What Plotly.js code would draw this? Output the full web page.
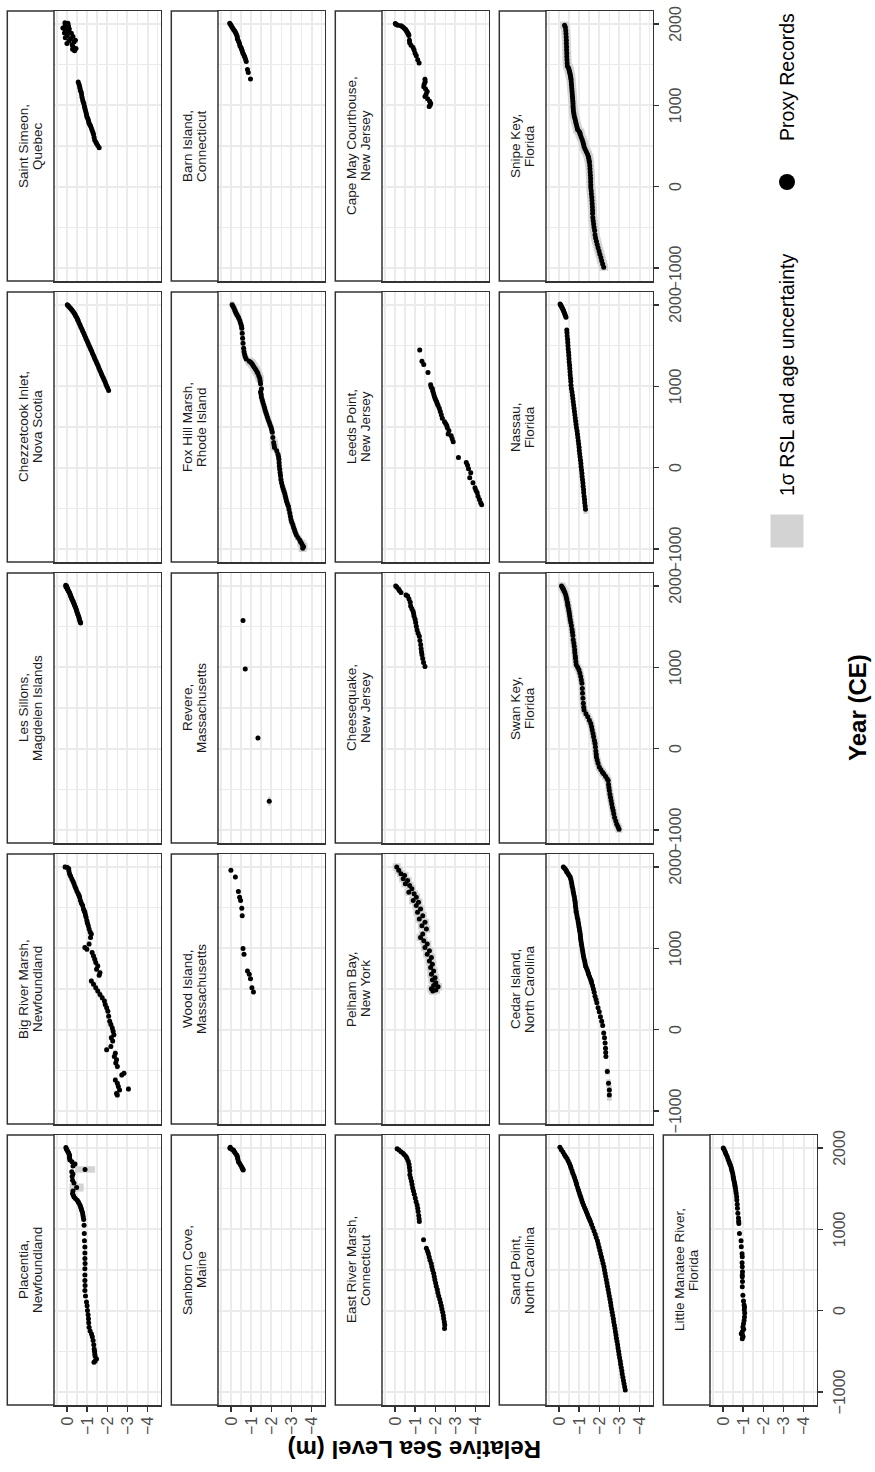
<!DOCTYPE html>
<html>
<head>
<meta charset="utf-8">
<script src="https://cdn.plot.ly/plotly-3.0.1.min.js"></script>
<style>
  html, body { margin: 0; padding: 0; width: 875px; height: 1472px; overflow: hidden; background: #ffffff; }
  /* the figure is laid out landscape and turned a quarter-turn counter-clockwise */
  #chart { position: absolute; left: 0; top: 0; width: 1472px; height: 875px;
           transform-origin: 0 0; transform: translate(0px, 1472px) rotate(-90deg); }
</style>
</head>
<body>
<div id="chart"></div>
<script>
// ---- proxy sea-level records: [year CE, RSL (m), optional 1σ age, optional 1σ RSL] ----
const placentia = [[2005,0.05],[1990,0.03],[1975,0.0],[1960,-0.04],[1945,-0.07],[1930,-0.1],[1910,-0.13],[1890,-0.12],[1870,-0.14],[1852,-0.15],[1830,-0.25],[1802,-0.40,30,0.12],[1780,-0.30],[1737,-0.90,40,0.5],[1707,-0.24],[1680,-0.30],[1650,-0.26],[1605,-0.28],[1570,-0.35],[1515,-0.48,50,0.35],[1470,-0.30],[1441,-0.28],[1420,-0.32],[1399,-0.35],[1380,-0.42],[1358,-0.51],[1340,-0.56],[1320,-0.60],[1297,-0.65],[1275,-0.68],[1255,-0.71],[1235,-0.73],[1210,-0.77],[1180,-0.79],[1153,-0.81],[1120,-0.83],[1050,-0.85],[948,-0.86],[860,-0.87],[783,-0.89],[710,-0.89],[640,-0.89],[580,-0.90],[516,-0.89],[440,-0.89],[372,-0.89],[310,-0.90],[249,-0.89],[180,-0.92],[105,-0.97],[60,-1.0],[2,-1.02],[-50,-1.05],[-100,-1.07],[-150,-1.08],[-204,-1.10],[-250,-1.15],[-286,-1.22],[-320,-1.26],[-368,-1.30],[-420,-1.33],[-470,-1.35],[-500,-1.37],[-532,-1.38],[-560,-1.40],[-594,-1.47],[-620,-1.40,40,0.12],[-635,-1.34]];
const bigRiverMarsh = [[2000,0.09],[1995,-0.02],[1979,-0.09],[1950,-0.1],[1918,-0.13],[1890,-0.18],[1856,-0.24],[1825,-0.3],[1794,-0.35],[1760,-0.4],[1732,-0.45],[1700,-0.5],[1670,-0.56],[1650,-0.6],[1629,-0.63],[1588,-0.67],[1555,-0.72],[1526,-0.78],[1485,-0.82],[1460,-0.86],[1443,-0.89],[1410,-0.92],[1381,-0.95],[1340,-0.99],[1310,-1.02],[1278,-1.06],[1237,-1.1],[1200,-1.15],[1175,-1.21],[1134,-1.17],[1052,-1.1],[1010,-0.89],[990,-0.99],[948,-1.25],[907,-1.32],[866,-1.38],[825,-1.43],[784,-1.53],[742,-1.47],[701,-1.64],[668,-1.6],[598,-1.21],[557,-1.32],[515,-1.43],[474,-1.53],[433,-1.64],[392,-1.75],[351,-1.86],[309,-1.9],[268,-1.97],[227,-2.03],[165,-2.07],[103,-2.12],[62,-2.18],[21,-2.25],[-21,-2.29],[-62,-2.33],[-100,-2.2],[-140,-2.27],[-206,-2.18],[-247,-1.97],[-289,-2.4],[-330,-2.35],[-371,-2.46],[-410,-2.42],[-454,-2.5],[-536,-2.83],[-557,-2.72],[-619,-2.4],[-660,-2.5],[-700,-2.55],[-730,-3.05],[-742,-2.61],[-784,-2.46],[-804,-2.5]];
const lesSillons = [[2008,0.06],[2000,0.02],[1990,0.05],[1980,0.0],[1970,-0.03],[1960,-0.02],[1950,-0.06],[1940,-0.08],[1930,-0.1],[1920,-0.12],[1905,-0.15],[1890,-0.17],[1875,-0.19],[1860,-0.22],[1845,-0.24],[1830,-0.26],[1815,-0.3],[1800,-0.32],[1785,-0.35],[1770,-0.37],[1750,-0.4],[1735,-0.43],[1715,-0.46],[1700,-0.48],[1680,-0.5],[1660,-0.53],[1640,-0.56],[1620,-0.59],[1600,-0.61],[1580,-0.63],[1560,-0.66],[1546,-0.68]];
const chezzetcook = [[2004,-0.02],[1995,-0.05],[1985,-0.09],[1971,-0.13],[1960,-0.18],[1948,-0.22],[1935,-0.26],[1921,-0.3],[1905,-0.35],[1890,-0.39],[1875,-0.42],[1860,-0.45],[1840,-0.5],[1820,-0.53],[1806,-0.56],[1780,-0.6],[1755,-0.65],[1730,-0.69],[1705,-0.74],[1680,-0.78],[1655,-0.83],[1630,-0.87],[1605,-0.92],[1580,-0.96],[1555,-1.01],[1530,-1.05],[1505,-1.09],[1480,-1.14],[1455,-1.18],[1430,-1.23],[1405,-1.27],[1380,-1.32],[1355,-1.36],[1330,-1.4],[1305,-1.45],[1280,-1.49],[1255,-1.54],[1230,-1.58],[1205,-1.62],[1180,-1.67],[1155,-1.71],[1130,-1.75],[1105,-1.8],[1080,-1.84],[1055,-1.89],[1030,-1.93],[1005,-1.97],[980,-2.02],[950,-2.07]];
const saintSimeon = [[2015,0.1],[2005,0.02],[2010,-0.05],[1985,0.08],[1975,-0.08],[1950,0.2],[1965,0.02],[1940,-0.12],[1920,0.08],[1905,-0.06],[1890,0.12],[1885,-0.22],[1860,-0.02],[1845,-0.3],[1830,0.08],[1820,-0.18],[1800,-0.42],[1790,-0.1],[1780,-0.35],[1760,0.0],[1745,-0.26],[1720,-0.3],[1700,-0.45],[1690,-0.28],[1670,-0.38],[1287,-0.56],[1260,-0.6],[1233,-0.63],[1210,-0.65],[1183,-0.67],[1160,-0.71],[1130,-0.73],[1100,-0.75],[1067,-0.78],[1040,-0.81],[1018,-0.84],[990,-0.87],[964,-0.89],[935,-0.92],[910,-0.95],[885,-0.97],[861,-0.99],[840,-1.03],[819,-1.06],[798,-1.08],[778,-1.1],[760,-1.14],[745,-1.17],[720,-1.21],[695,-1.25],[665,-1.29],[641,-1.32],[605,-1.35],[571,-1.38],[550,-1.43],[530,-1.47],[505,-1.53],[480,-1.6]];
const sanbornCove = [[2008,0.03],[1996,0.05],[1985,-0.04],[1975,-0.12],[1965,-0.14],[1950,-0.18],[1935,-0.22],[1914,-0.29],[1900,-0.31],[1880,-0.33],[1860,-0.35],[1832,-0.37],[1815,-0.42],[1795,-0.47],[1770,-0.53],[1755,-0.56],[1740,-0.59],[1729,-0.61]];
const woodIsland = [[1959,0.0],[1876,-0.22],[1699,-0.37],[1629,-0.43],[1588,-0.48],[1493,-0.54],[1402,-0.56],[998,-0.6],[928,-0.65],[722,-0.82],[680,-0.91],[627,-0.97],[515,-1.04],[462,-1.12]];
const revere = [[1575,-0.6],[981,-0.71],[132,-1.34],[-647,-1.9,55,0.06]];
const foxHillMarsh = [[2004,-0.06],[1985,-0.1],[1963,-0.15],[1940,-0.19],[1921,-0.22],[1900,-0.26],[1880,-0.3],[1860,-0.35],[1839,-0.39],[1810,-0.44],[1777,-0.48],[1745,-0.52],[1715,-0.54],[1653,-0.56],[1591,-0.58],[1529,-0.6],[1467,-0.63],[1426,-0.65],[1390,-0.68],[1364,-0.71],[1335,-0.76],[1310,-0.91,45,0.2],[1295,-0.98,45,0.2],[1281,-1.04,45,0.2],[1260,-1.09,45,0.2],[1240,-1.14,45,0.2],[1220,-1.2,45,0.2],[1198,-1.25,45,0.2],[1175,-1.3,45,0.2],[1157,-1.34,45,0.2],[1125,-1.39,45,0.2],[1095,-1.43,45,0.2],[1065,-1.45],[1033,-1.47],[971,-1.51],[930,-1.47],[900,-1.5],[868,-1.51],[836,-1.55],[806,-1.58],[775,-1.62],[744,-1.66],[713,-1.69],[682,-1.73],[650,-1.77],[620,-1.81],[590,-1.85],[558,-1.9],[527,-1.94],[496,-1.99],[465,-2.02],[434,-2.05],[372,-2.08],[310,-2.12,45,0.2],[280,-2.14,45,0.2],[248,-2.16,45,0.2],[207,-2.27],[165,-2.33],[134,-2.36],[103,-2.38],[60,-2.39],[21,-2.4],[-20,-2.42],[-62,-2.44],[-100,-2.46],[-145,-2.48],[-185,-2.51],[-227,-2.55],[-260,-2.59],[-289,-2.63],[-320,-2.67],[-351,-2.7],[-382,-2.73],[-413,-2.76],[-445,-2.8],[-475,-2.85],[-515,-2.88],[-558,-2.92],[-600,-2.95],[-640,-2.98],[-670,-3.02],[-702,-3.07],[-735,-3.11],[-764,-3.15],[-795,-3.19],[-826,-3.24],[-858,-3.32],[-888,-3.41],[-910,-3.45],[-930,-3.5,45,0.2],[-955,-3.55,45,0.2],[-971,-3.6,45,0.2],[-992,-3.56,45,0.2]];
const barnIsland = [[2010,0.06],[1995,0.02],[1980,-0.02],[1960,-0.06],[1945,-0.1],[1930,-0.14],[1915,-0.19],[1900,-0.22],[1880,-0.26],[1860,-0.29],[1840,-0.32],[1815,-0.32],[1795,-0.37],[1775,-0.4],[1755,-0.43],[1730,-0.45],[1710,-0.5],[1690,-0.53],[1670,-0.56],[1650,-0.58],[1630,-0.62],[1610,-0.66],[1590,-0.69],[1565,-0.73],[1540,-0.76],[1440,-0.82],[1405,-0.86],[1324,-0.97]];
const eastRiverMarsh = [[1992,-0.11],[1975,-0.2],[1955,-0.3],[1935,-0.4],[1918,-0.47],[1895,-0.55],[1870,-0.6],[1836,-0.66],[1800,-0.7],[1760,-0.72],[1720,-0.74],[1671,-0.74],[1630,-0.78],[1590,-0.82],[1550,-0.85],[1507,-0.88],[1470,-0.92],[1430,-0.96],[1384,-1.01],[1340,-1.05],[1300,-1.1],[1260,-1.13],[1220,-1.15],[1170,-1.18],[1130,-1.2],[1097,-1.21],[871,-1.42],[768,-1.56],[730,-1.62],[700,-1.66],[660,-1.7],[620,-1.74],[580,-1.8],[540,-1.83],[500,-1.87],[460,-1.92],[420,-1.95],[380,-1.98],[340,-2.02],[300,-2.05],[260,-2.1],[220,-2.13],[180,-2.17],[140,-2.22],[100,-2.26],[60,-2.3],[20,-2.33],[-20,-2.37],[-60,-2.4],[-100,-2.42],[-140,-2.45],[-177,-2.47],[-218,-2.46]];
const pelhamBay = [[2000,-0.09],[1959,-0.19],[1918,-0.3],[1897,-0.48],[1856,-0.41],[1835,-0.63],[1794,-0.52],[1773,-0.73],[1732,-0.84],[1691,-0.69],[1670,-0.95],[1629,-1.06],[1588,-0.91],[1567,-1.17],[1526,-1.06],[1485,-1.27],[1443,-1.12],[1402,-1.38],[1361,-1.21],[1320,-1.49],[1278,-1.34],[1237,-1.56],[1175,-1.38],[1134,-1.27],[1093,-1.43],[1052,-1.6],[1010,-1.49],[969,-1.71],[928,-1.6],[887,-1.81],[845,-1.71],[804,-1.86],[763,-1.77],[722,-1.92],[680,-1.81],[639,-1.99],[610,-1.86],[577,-2.03],[544,-1.92],[528,-2.14],[503,-1.81],[487,-2.03],[474,-1.88]];
const cheesequake = [[2000,-0.04],[1985,-0.1],[1960,-0.19],[1945,-0.22],[1920,-0.3],[1890,-0.55],[1876,-0.63],[1840,-0.7],[1800,-0.76],[1753,-0.78],[1720,-0.84],[1690,-0.9],[1660,-0.93],[1629,-0.95],[1590,-1.0],[1550,-1.03],[1505,-1.06],[1460,-1.1],[1420,-1.15],[1381,-1.21],[1330,-1.24],[1278,-1.28],[1230,-1.3],[1190,-1.32],[1155,-1.34],[1110,-1.38],[1060,-1.42],[1010,-1.49]];
const leedsPoint = [[1446,-1.23],[1310,-1.34],[1269,-1.43],[1169,-1.64],[1021,-1.77],[990,-1.8],[971,-1.86],[940,-1.88],[909,-1.92],[880,-1.95],[855,-1.99],[830,-2.03],[806,-2.07],[785,-2.1],[764,-2.14],[730,-2.2],[690,-2.25],[650,-2.3],[607,-2.35],[566,-2.46],[540,-2.52],[517,-2.57],[490,-2.6],[455,-2.68],[413,-2.64],[393,-2.79],[355,-2.84],[318,-2.89],[124,-3.15],[62,-3.54],[30,-3.6],[-12,-3.65],[-62,-3.76],[-124,-3.71],[-186,-3.87],[-248,-3.97],[-280,-4.02],[-310,-4.08],[-350,-4.12],[-393,-4.19],[-430,-4.25],[-455,-4.3]];
const capeMay = [[2005,-0.02],[1995,-0.06],[1985,-0.15],[1980,-0.3],[1965,-0.38],[1950,-0.45],[1935,-0.52],[1920,-0.56],[1905,-0.6],[1890,-0.63],[1875,-0.68],[1860,-0.69],[1800,-0.72],[1770,-0.73],[1740,-0.8],[1710,-0.9],[1680,-0.95],[1640,-1.0],[1610,-1.06],[1560,-1.13],[1520,-1.2],[1320,-1.49],[1290,-1.5],[1260,-1.45],[1230,-1.43],[1200,-1.52],[1170,-1.6],[1140,-1.55],[1110,-1.49],[1080,-1.62],[1050,-1.72],[1025,-1.77],[1005,-1.75],[985,-1.7]];
const sandPoint = [[2008,-0.05],[1980,-0.12],[1950,-0.2],[1920,-0.27],[1897,-0.33],[1870,-0.4],[1840,-0.46],[1810,-0.52],[1780,-0.57],[1754,-0.6],[1720,-0.65],[1690,-0.69],[1660,-0.74],[1630,-0.78],[1600,-0.82],[1570,-0.86],[1548,-0.88],[1510,-0.93],[1480,-0.97],[1450,-1.01],[1420,-1.05],[1390,-1.09],[1360,-1.13],[1330,-1.17],[1300,-1.22],[1270,-1.27],[1240,-1.32],[1210,-1.37],[1180,-1.42],[1150,-1.47],[1120,-1.52],[1097,-1.56],[1060,-1.62],[1020,-1.68],[980,-1.74],[940,-1.8],[900,-1.85],[860,-1.91],[820,-1.95],[780,-1.99],[740,-2.03],[700,-2.07],[660,-2.11],[620,-2.15],[580,-2.19],[540,-2.23],[500,-2.26],[460,-2.29],[420,-2.32],[380,-2.35],[340,-2.38],[300,-2.41],[260,-2.44],[220,-2.47],[180,-2.5],[140,-2.53],[100,-2.56],[60,-2.58],[20,-2.61],[-20,-2.64],[-60,-2.67],[-100,-2.7],[-140,-2.72],[-180,-2.75],[-220,-2.78],[-260,-2.8],[-300,-2.83],[-340,-2.85],[-380,-2.88],[-420,-2.91],[-460,-2.93],[-500,-2.96],[-540,-2.98],[-580,-3.01],[-620,-3.04],[-660,-3.06],[-700,-3.09],[-740,-3.12],[-780,-3.14],[-820,-3.17],[-860,-3.2],[-900,-3.23],[-940,-3.26],[-977,-3.29]];
const cedarIsland = [[2000,-0.22],[1985,-0.28],[1970,-0.33],[1955,-0.37],[1938,-0.39],[1920,-0.45],[1900,-0.5],[1876,-0.56],[1850,-0.59],[1820,-0.62],[1790,-0.64],[1760,-0.66],[1730,-0.69],[1700,-0.71],[1670,-0.73],[1640,-0.76],[1608,-0.78],[1580,-0.8],[1550,-0.81],[1520,-0.82],[1490,-0.84],[1460,-0.85],[1443,-0.86],[1410,-0.89],[1380,-0.91],[1350,-0.94],[1320,-0.96],[1290,-0.98],[1260,-1.0],[1230,-1.02],[1200,-1.04],[1170,-1.06],[1140,-1.07],[1113,-1.08],[1080,-1.1],[1050,-1.12],[1020,-1.14],[990,-1.16],[960,-1.18],[930,-1.2],[900,-1.22],[870,-1.25],[840,-1.28],[810,-1.3],[784,-1.32],[760,-1.36],[730,-1.41],[700,-1.45],[680,-1.47],[650,-1.52],[620,-1.57],[600,-1.6],[577,-1.62],[540,-1.67],[500,-1.71],[460,-1.75],[412,-1.79],[370,-1.84],[330,-1.88],[268,-1.94],[220,-2.0],[160,-2.06],[103,-2.12],[50,-2.17],[-41,-2.22],[-100,-2.26],[-165,-2.29],[-230,-2.31],[-280,-2.32],[-330,-2.33],[-515,-2.4,40,0.12],[-660,-2.46,50,0.12],[-742,-2.5,60,0.12],[-804,-2.5,70,0.12]];
const swanKey = [[2000,-0.13],[1985,-0.17],[1970,-0.2],[1959,-0.22],[1940,-0.26],[1918,-0.3],[1890,-0.34],[1860,-0.37],[1835,-0.39],[1800,-0.42],[1770,-0.44],[1753,-0.45],[1720,-0.48],[1691,-0.5],[1660,-0.52],[1625,-0.54],[1588,-0.56],[1550,-0.59],[1510,-0.62],[1464,-0.65],[1430,-0.67],[1390,-0.69],[1340,-0.71],[1300,-0.74],[1260,-0.76],[1216,-0.78],[1180,-0.79],[1140,-0.81],[1113,-0.82],[1070,-0.84],[1031,-0.86],[1000,-0.93],[969,-0.99],[930,-1.04],[887,-1.08],[845,-1.11],[804,-1.14],[740,-1.16],[680,-1.17],[620,-1.19],[557,-1.21],[510,-1.23],[474,-1.25],[430,-1.34],[392,-1.43],[350,-1.51],[309,-1.58],[270,-1.62],[230,-1.65],[186,-1.69],[145,-1.72],[100,-1.76],[62,-1.79],[20,-1.81],[-30,-1.83],[-70,-1.85],[-103,-1.86],[-140,-1.9],[-180,-1.94],[-227,-2.0],[-260,-2.08],[-290,-2.16],[-309,-2.22],[-340,-2.31],[-370,-2.39],[-392,-2.44],[-440,-2.46],[-480,-2.48],[-515,-2.5],[-560,-2.53],[-600,-2.56],[-639,-2.59],[-680,-2.62],[-722,-2.65],[-760,-2.69],[-800,-2.72],[-845,-2.76],[-890,-2.82],[-928,-2.87],[-960,-2.93],[-990,-2.98]];
const nassau = [[2012,-0.06],[2000,-0.08],[1990,-0.11],[1975,-0.14],[1960,-0.17],[1945,-0.2],[1930,-0.23],[1910,-0.26],[1890,-0.29],[1870,-0.32],[1850,-0.35],[1694,-0.39],[1660,-0.4],[1620,-0.41],[1580,-0.43],[1540,-0.44],[1500,-0.45],[1460,-0.46],[1420,-0.48],[1380,-0.49],[1340,-0.5],[1300,-0.51],[1260,-0.53],[1220,-0.54],[1180,-0.55],[1140,-0.56],[1100,-0.58],[1060,-0.59],[1012,-0.6],[970,-0.62],[930,-0.65],[890,-0.67],[850,-0.69],[810,-0.71],[770,-0.73],[730,-0.75],[690,-0.77],[650,-0.79],[610,-0.81],[570,-0.83],[530,-0.85],[490,-0.87],[450,-0.9],[410,-0.92],[370,-0.94],[330,-0.96],[290,-0.98],[250,-1.0],[210,-1.01],[170,-1.03],[130,-1.05],[90,-1.07],[50,-1.09],[10,-1.1],[-30,-1.12],[-70,-1.14],[-110,-1.15],[-150,-1.17],[-190,-1.19],[-230,-1.2],[-270,-1.22],[-310,-1.23],[-350,-1.25],[-390,-1.27],[-430,-1.28],[-470,-1.3],[-510,-1.32,60,0.1]];
const snipeKey = [[1985,-0.28],[1960,-0.32],[1920,-0.34],[1880,-0.35],[1840,-0.36],[1800,-0.37],[1760,-0.37],[1720,-0.38],[1680,-0.38],[1640,-0.39],[1600,-0.39],[1560,-0.4],[1520,-0.41],[1485,-0.42],[1460,-0.48],[1440,-0.5],[1420,-0.52],[1400,-0.54],[1380,-0.56],[1360,-0.57],[1340,-0.59],[1320,-0.6],[1290,-0.61],[1260,-0.62],[1230,-0.63],[1200,-0.64],[1170,-0.65],[1140,-0.66],[1110,-0.67],[1080,-0.68],[1050,-0.69],[1020,-0.7],[990,-0.7],[960,-0.71],[930,-0.72],[900,-0.74],[870,-0.76],[840,-0.79],[810,-0.82],[780,-0.85],[750,-0.88],[720,-0.91],[700,-0.93],[680,-1.0],[660,-1.04],[640,-1.06],[610,-1.1],[580,-1.15],[550,-1.19],[520,-1.22],[490,-1.25],[460,-1.3],[430,-1.36],[400,-1.42],[370,-1.46],[345,-1.48],[320,-1.5],[300,-1.51],[260,-1.53],[220,-1.54],[180,-1.55],[140,-1.56],[100,-1.57],[60,-1.57],[20,-1.58],[-10,-1.58],[-50,-1.6],[-90,-1.61],[-130,-1.63],[-170,-1.64],[-210,-1.65],[-250,-1.66],[-290,-1.67],[-330,-1.67],[-380,-1.68],[-420,-1.7],[-460,-1.72],[-500,-1.74],[-540,-1.77],[-590,-1.79],[-630,-1.82],[-670,-1.86],[-710,-1.9],[-750,-1.94],[-790,-1.99],[-830,-2.03],[-870,-2.08],[-910,-2.12],[-950,-2.17],[-990,-2.22]];
const littleManatee = [[2000,-0.02],[1984,-0.05],[1960,-0.1],[1940,-0.13],[1916,-0.17],[1890,-0.22],[1860,-0.26],[1835,-0.3],[1813,-0.33],[1790,-0.37],[1760,-0.41],[1735,-0.43],[1711,-0.46],[1680,-0.49],[1650,-0.51],[1630,-0.52],[1608,-0.54],[1580,-0.57],[1550,-0.59],[1530,-0.6],[1505,-0.62],[1470,-0.64],[1440,-0.66],[1400,-0.68],[1361,-0.69],[1310,-0.71],[1260,-0.72],[1197,-0.74],[1140,-0.77],[1100,-0.78],[1073,-0.79],[950,-0.82],[860,-0.9],[786,-0.91],[700,-0.95],[662,-0.96],[590,-0.95],[539,-0.96],[480,-0.97],[440,-0.96],[416,-0.96],[360,-0.97],[293,-0.96],[190,-0.99],[120,-1.02],[70,-1.05],[46,-1.07],[10,-1.06],[-30,-1.08],[-77,-1.07],[-120,-1.05],[-160,-1.02],[-201,-0.99],[-230,-1.03],[-260,-0.96],[-283,-0.91],[-300,-0.97],[-320,-1.0],[-345,-0.96]];

// facet labels, in panel order (left to right, top to bottom)
const siteLabels = [
  'Placentia,|Newfoundland', 'Big River Marsh,|Newfoundland', 'Les Sillons,|Magdelen Islands', 'Chezzetcook Inlet,|Nova Scotia', 'Saint Simeon,|Quebec',
  'Sanborn Cove,|Maine', 'Wood Island,|Massachusetts', 'Revere,|Massachusetts', 'Fox Hill Marsh,|Rhode Island', 'Barn Island,|Connecticut',
  'East River Marsh,|Connecticut', 'Pelham Bay,|New York', 'Cheesequake,|New Jersey', 'Leeds Point,|New Jersey', 'Cape May Courthouse,|New Jersey',
  'Sand Point,|North Carolina', 'Cedar Island,|North Carolina', 'Swan Key,|Florida', 'Nassau,|Florida', 'Snipe Key,|Florida',
  'Little Manatee River,|Florida'
];
const siteRecords = [placentia, bigRiverMarsh, lesSillons, chezzetcook, saintSimeon,
  sanbornCove, woodIsland, revere, foxHillMarsh, barnIsland,
  eastRiverMarsh, pelhamBay, cheesequake, leedsPoint, capeMay,
  sandPoint, cedarIsland, swanKey, nassau, snipeKey, littleManatee];
// typical 1σ age (years) and RSL (m) uncertainty of each record
const sigmaAge = [25, 35, 10, 10, 20, 15, 30, 30, 40, 10, 20, 45, 30, 30, 30, 15, 30, 45, 25, 45, 25];
const sigmaRsl = [0.06, 0.1, 0.05, 0.04, 0.07, 0.07, 0.07, 0.06, 0.12, 0.05, 0.07, 0.2, 0.1, 0.1, 0.1, 0.05, 0.09, 0.17, 0.09, 0.22, 0.08];

const legendLabels = ['1σ RSL and age uncertainty', 'Proxy Records'];
const yearTicks = [-1000, 0, 1000, 2000];
const rslTicks = [-4, -3, -2, -1, 0];

// ---- page geometry (landscape figure, px) ----
const W = 1472, H = 875;
const colLeft = 67, colStep = 281, colWidth = 270;
const panelTop = 54, rowStep = 164, panelHeight = 106.5, stripHeight = 46.7;
const FONT = 'Liberation Sans, Arial, Helvetica, sans-serif';
const GRID = '#EBEBEB', INK = '#333333';

const px = X => X / W;
const py = Y => (H - Y) / H;

const traces = [];
const layout = {
  width: W, height: H,
  margin: {l: 0, r: 0, t: 0, b: 0},
  paper_bgcolor: '#ffffff', plot_bgcolor: '#ffffff',
  showlegend: false,
  font: {family: FONT, color: '#000000'},
  shapes: [], annotations: []
};

siteRecords.forEach((rec, i) => {
  const r = Math.floor(i / 5), c = i % 5;
  const sfx = i === 0 ? '' : String(i + 1);
  const X0 = colLeft + colStep * c, X1 = X0 + colWidth;
  const Y0 = panelTop + rowStep * r, Y1 = Y0 + panelHeight;
  const showYear = (c === 0 && r === 4) || (c > 0 && r === 3);
  const showRsl = c === 0;

  // uncertainty rectangles
  const bx = [], by = [];
  rec.forEach(p => {
    const a = p[0], v = p[1];
    const da = p.length > 2 ? p[2] : sigmaAge[i];
    const dv = p.length > 3 ? p[3] : sigmaRsl[i];
    bx.push(a - da, a + da, a + da, a - da, a - da, null);
    by.push(v - dv, v - dv, v + dv, v + dv, v - dv, null);
  });
  traces.push({
    type: 'scatter', mode: 'lines', x: bx, y: by, xaxis: 'x' + sfx, yaxis: 'y' + sfx,
    fill: 'toself', fillcolor: '#D3D3D3', line: {width: 0, color: 'rgba(0,0,0,0)'},
    hoverinfo: 'skip', connectgaps: false
  });
  traces.push({
    type: 'scatter', mode: 'markers', x: rec.map(p => p[0]), y: rec.map(p => p[1]),
    xaxis: 'x' + sfx, yaxis: 'y' + sfx,
    marker: {size: 5, color: '#000000', line: {width: 0}}
  });

  layout['xaxis' + sfx] = {
    domain: [px(X0), px(X1)], anchor: 'y' + sfx, range: [-1160, 2160],
    tickmode: 'array', tickvals: yearTicks,
    showgrid: true, gridcolor: GRID, gridwidth: 2,
    minor: {dtick: 500, tick0: 0, showgrid: true, gridcolor: GRID, gridwidth: 1.5, ticks: ''},
    zeroline: false, showline: true, mirror: true, linecolor: INK, linewidth: 1.5,
    ticks: showYear ? 'outside' : '', ticklen: 5, tickwidth: 1.4, tickcolor: INK,
    showticklabels: showYear, ticklabelstandoff: 3,
    tickfont: {family: FONT, size: 16, color: '#4D4D4D'}, fixedrange: true
  };
  layout['yaxis' + sfx] = {
    domain: [py(Y1), py(Y0)], anchor: 'x' + sfx, range: [-4.64, 0.64],
    tickmode: 'array', tickvals: rslTicks,
    showgrid: true, gridcolor: GRID, gridwidth: 2,
    minor: {dtick: 0.5, tick0: 0, showgrid: true, gridcolor: GRID, gridwidth: 1.5, ticks: ''},
    zeroline: false, showline: true, mirror: true, linecolor: INK, linewidth: 1.5,
    ticks: showRsl ? 'outside' : '', ticklen: 5, tickwidth: 1.4, tickcolor: INK,
    showticklabels: showRsl, ticklabelstandoff: 2,
    tickfont: {family: FONT, size: 16, color: '#4D4D4D'}, fixedrange: true
  };

  // facet strip
  const sTop = Y0 - stripHeight;
  layout.shapes.push({
    type: 'rect', xref: 'paper', yref: 'paper',
    x0: px(X0), x1: px(X1), y0: py(Y0), y1: py(sTop),
    line: {color: INK, width: 1.5}, fillcolor: '#ffffff', layer: 'above'
  });
  const lines = siteLabels[i].split('|');
  const sMid = sTop + stripHeight / 2;
  lines.forEach((t, k) => {
    layout.annotations.push({
      xref: 'paper', yref: 'paper', x: px((X0 + X1) / 2), y: py(sMid + (k === 0 ? -7 : 7)),
      text: t, showarrow: false, xanchor: 'center', yanchor: 'middle',
      font: {family: FONT, size: 13.5, color: '#1A1A1A'}
    });
  });
});

// axis titles
layout.annotations.push({
  xref: 'paper', yref: 'paper', x: px(764), y: py(857), text: '<b>Year (CE)</b>',
  showarrow: false, xanchor: 'center', yanchor: 'middle',
  font: {family: FONT, size: 24, color: '#000000'}
});
layout.annotations.push({
  xref: 'paper', yref: 'paper', x: px(22), y: py(415), text: '<b>Relative Sea Level (m)</b>',
  showarrow: false, xanchor: 'center', yanchor: 'middle', textangle: -90,
  font: {family: FONT, size: 24, color: '#000000'}
});

// legend keys
const legY = 787;
layout.shapes.push({
  type: 'rect', xref: 'paper', yref: 'paper',
  x0: px(924.5), x1: px(957.5), y0: py(legY + 16.5), y1: py(legY - 16.5),
  line: {width: 0}, fillcolor: '#D3D3D3'
});
layout.shapes.push({
  type: 'circle', xref: 'paper', yref: 'paper',
  x0: px(1282), x1: px(1298), y0: py(legY + 8), y1: py(legY - 8),
  line: {width: 0}, fillcolor: '#000000'
});
[[974, legendLabels[0]], [1329, legendLabels[1]]].forEach(([X, t]) => {
  layout.annotations.push({
    xref: 'paper', yref: 'paper', x: px(X), y: py(legY), text: t,
    showarrow: false, xanchor: 'left', yanchor: 'middle',
    font: {family: FONT, size: 19.5, color: '#000000'}
  });
});

Plotly.newPlot('chart', traces, layout, {staticPlot: true, displayModeBar: false});
</script>
</body>
</html>
